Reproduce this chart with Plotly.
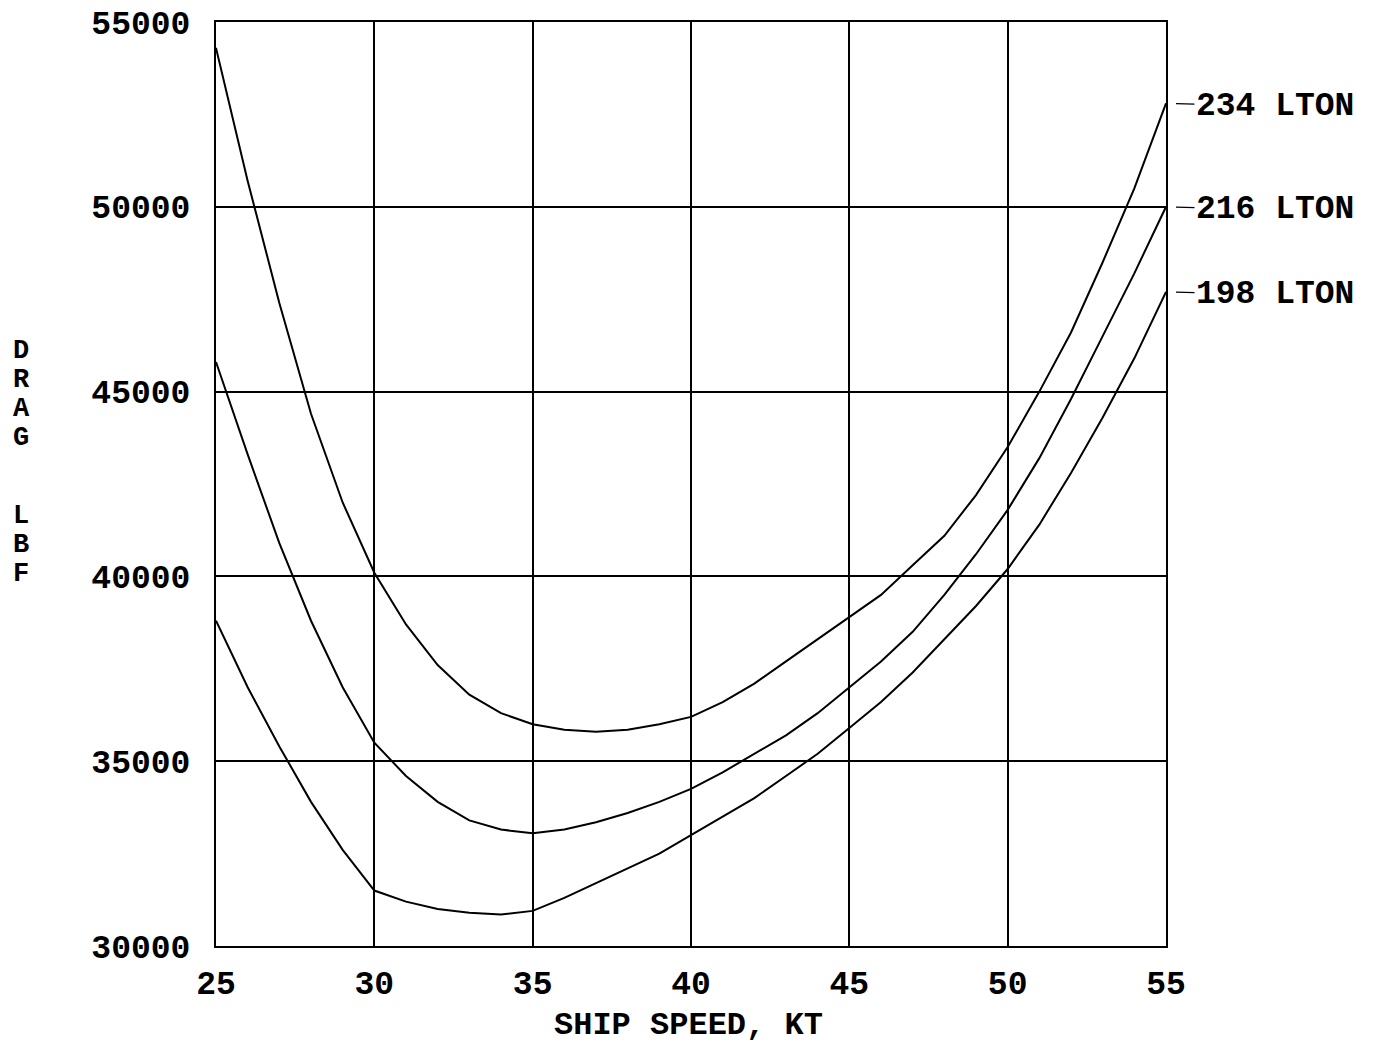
import plotly.graph_objects as go

speed = list(range(25, 56))

drag_234 = [54300, 50700, 47400, 44400, 42000, 40100, 38700, 37600, 36800, 36300,
            36000, 35850, 35800, 35850, 36000, 36200, 36600, 37100, 37700, 38300,
            38900, 39500, 40300, 41100, 42200, 43500, 45000, 46600, 48500, 50500, 52800]
drag_216 = [45800, 43300, 40900, 38800, 37000, 35500, 34600, 33900, 33400, 33150,
            33050, 33150, 33350, 33600, 33900, 34250, 34700, 35200, 35700, 36300,
            37000, 37700, 38500, 39500, 40600, 41800, 43200, 44800, 46500, 48200, 50000]
drag_198 = [38800, 37000, 35400, 33900, 32600, 31500, 31200, 31000, 30900, 30850,
            30950, 31300, 31700, 32100, 32500, 33000, 33500, 34000, 34600, 35200,
            35900, 36600, 37400, 38300, 39200, 40200, 41400, 42800, 44300, 45900, 47700]

series = [("234 LTON", drag_234), ("216 LTON", drag_216), ("198 LTON", drag_198)]

x_ticks = [25, 30, 35, 40, 45, 50, 55]
y_ticks = [30000, 35000, 40000, 45000, 50000, 55000]

x_title = "SHIP SPEED, KT"
y_title_letters = ["D", "R", "A", "G", "L", "B", "F"]

FONT = dict(family="Liberation Mono, DejaVu Sans Mono, monospace", size=33, color="black", weight="bold")
LETTER_FONT = dict(FONT, size=27)
XTITLE_FONT = dict(FONT, size=32)

L, T, PW, PH = 208, 14, 950, 924
W, H = 1360, 1035

fig = go.Figure()
for name, vals in series:
    fig.add_trace(go.Scatter(x=speed, y=vals, mode="lines", name=name,
                             line=dict(color="black", width=2), showlegend=False))
    fig.add_annotation(x=speed[-1], y=vals[-1], xref="x", yref="y", text=name,
                       showarrow=True, arrowhead=0, arrowwidth=1.4, arrowcolor="black",
                       ax=109, ay=3, standoff=10, startstandoff=0,
                       xanchor="center", font=FONT)

# vertical stacked y-axis title (page pixel centres of each letter)
letter_px = [350, 379, 408, 437, 515, 544, 573]
for ch, py in zip(y_title_letters, letter_px):
    fig.add_annotation(text=ch, xref="paper", yref="paper",
                       x=(21 - 216) / PW, y=(945 - py) / PH, showarrow=False,
                       xanchor="center", yanchor="middle", font=LETTER_FONT)

# x-axis title
fig.add_annotation(text=x_title, xref="paper", yref="paper",
                   x=(688 - 216) / PW, y=(945 - 1024) / PH, showarrow=False,
                   xanchor="center", yanchor="middle", font=XTITLE_FONT)

fig.update_xaxes(range=[25, 55], tickvals=x_ticks, ticktext=[str(v) for v in x_ticks],
                 showgrid=True, gridcolor="black", gridwidth=2, zeroline=False,
                 showline=True, linecolor="black", linewidth=2, mirror=True, ticks="",
                 tickfont=FONT, ticklabelstandoff=6, automargin=False,
                 ticklabeloverflow="allow")
fig.update_yaxes(range=[30000, 55000], tickvals=y_ticks, ticktext=[str(v) for v in y_ticks],
                 showgrid=True, gridcolor="black", gridwidth=2, zeroline=False,
                 showline=True, linecolor="black", linewidth=2, mirror=True, ticks="",
                 tickfont=FONT, ticklabelstandoff=17, automargin=False,
                 ticklabeloverflow="allow")

fig.update_layout(width=W, height=H, plot_bgcolor="white", paper_bgcolor="white",
                  margin=dict(l=L, r=W - L - PW, t=T, b=H - T - PH))

fig.write_html("out.html")
